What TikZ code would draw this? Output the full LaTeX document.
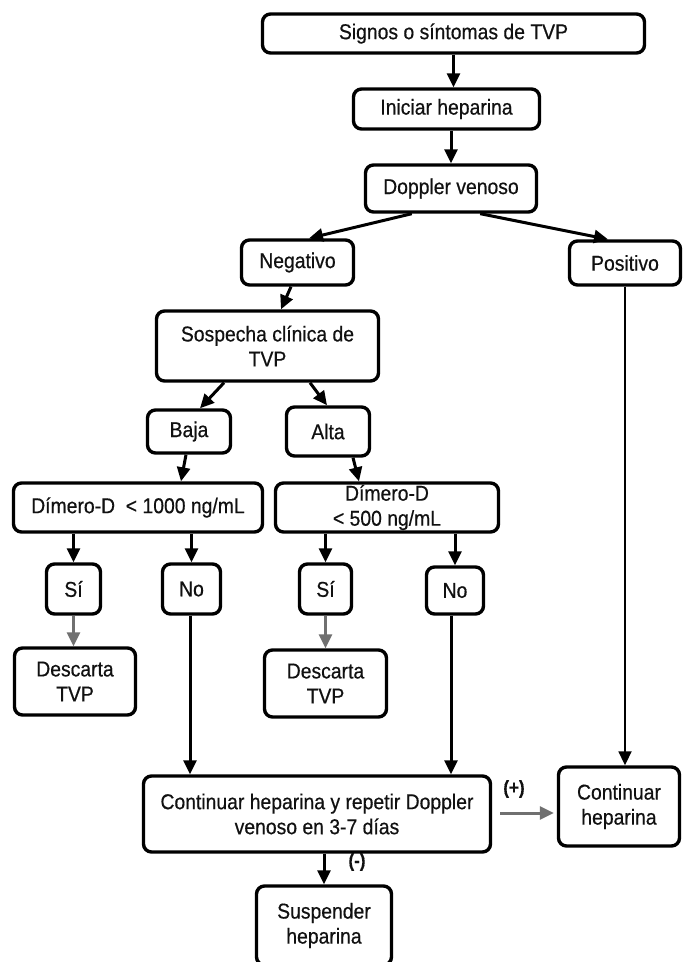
\documentclass[tikz,border=0pt]{standalone}
\usepackage{fontspec}
\setmainfont[FakeStretch=0.9,FakeBold=0.5]{Liberation Sans}
\usetikzlibrary{arrows.meta,calc}
\definecolor{arrgray}{HTML}{707070}
\definecolor{txt}{HTML}{111111}
\begin{document}
\begin{tikzpicture}[x=1pt,y=-1pt,
  box/.style={draw=black, line width=3.4pt, rounded corners=8pt, align=center,
    inner sep=0pt, text=txt, font=\fontsize{21.5}{25}\selectfont},
  arr/.style={draw=black, line width=3pt, -{Triangle[length=14pt,width=13pt]}},
  thinarr/.style={draw=black, line width=1.8pt, -{Triangle[length=14pt,width=13pt]}},
  garr/.style={draw=arrgray, line width=3pt, -{Triangle[length=14pt,width=13pt]}},
  lbl/.style={text=txt, font=\bfseries\fontsize{19}{21}\selectfont, inner sep=0pt}]
\useasboundingbox (0,0) rectangle (683,962);
\clip (0,0) rectangle (683,962);
\fill[white] (0,0) rectangle (683,962);

\node[box, minimum width=382pt, minimum height=39pt] (top) at (453.5,33.5) {Signos o síntomas de TVP};
\node[box, minimum width=186pt, minimum height=40pt] (ini) at (446.5,109) {Iniciar heparina};
\node[box, minimum width=171pt, minimum height=47pt] (dop) at (451,188.5) {Doppler venoso};
\node[box, minimum width=112pt, minimum height=45pt] (neg) at (297.5,262.5) {Negativo};
\node[box, minimum width=111pt, minimum height=44pt] (pos) at (625,263) {Positivo};
\node[box, minimum width=222pt, minimum height=70pt] (sosp) at (267.5,346) {Sospecha clínica de\\TVP};
\node[box, minimum width=83pt, minimum height=43pt] (baja) at (189,431.5) {Baja};
\node[box, minimum width=83pt, minimum height=49pt] (alta) at (328,431.5) {Alta};
\node[box, minimum width=249pt, minimum height=49pt] (dim1) at (138,507.5) {Dímero-D\ \ < 1000 ng/mL};
\node[box, minimum width=223pt, minimum height=49pt] (dim2) at (387,507.5) {Dímero-D\\< 500 ng/mL};
\node[box, minimum width=54pt, minimum height=50pt] (si1) at (73.5,589) {Sí};
\node[box, minimum width=58pt, minimum height=50pt] (no1) at (191.5,589) {No};
\node[box, minimum width=52pt, minimum height=50pt] (si2) at (325.5,589) {Sí};
\node[box, minimum width=57pt, minimum height=47pt] (no2) at (455,590.5) {No};
\node[box, minimum width=121pt, minimum height=67pt] (desc1) at (75,681.5) {Descarta\\TVP};
\node[box, minimum width=122pt, minimum height=67pt] (desc2) at (325.5,683.5) {Descarta\\TVP};
\node[box, minimum width=347pt, minimum height=76pt] (cont) at (317,814) {Continuar heparina y repetir Doppler\\venoso en 3-7 días};
\node[box, minimum width=121pt, minimum height=79pt] (contR) at (619,806.5) {Continuar\\heparina};
\node[box, minimum width=135pt, minimum height=79pt] (susp) at (324,925.5) {Suspender\\heparina};

% connectors
\draw[arr] (top.south) -- (top.south |- ini.north);
\draw[arr] (dop.north |- ini.south) -- (dop.north);
\draw[arr] ($(dop.south west)+(48,0)$) -- ($(neg.north)+(11.5,0)$);
\draw[arr] ($(dop.south east)+(-58,0)$) -- ($(pos.north)+(-17,0)$);
\draw[arr] ($(neg.south)+(-6.5,0)$) -- ($(sosp.north)+(13.5,0)$);
\draw[arr] ($(sosp.south)+(-43.5,0)$) -- ($(baja.north)+(11,0)$);
\draw[arr] ($(sosp.south)+(42.5,0)$) -- ($(alta.north)+(-1,0)$);
\draw[arr] ($(baja.south)+(-3,0)$) -- ($(dim1.north)+(43,0)$);
\draw[arr] ($(alta.south)+(25,0)$) -- ($(dim2.north)+(-28,0)$);
\draw[arr] (si1.north |- dim1.south) -- (si1.north);
\draw[arr] (no1.north |- dim1.south) -- (no1.north);
\draw[arr] (si2.north |- dim2.south) -- (si2.north);
\draw[arr] (no2.north |- dim2.south) -- (no2.north);
\draw[garr] (si1.south) -- (si1.south |- desc1.north);
\draw[garr] (si2.south) -- (si2.south |- desc2.north);
\draw[arr] ($(no1.south)+(-1.5,0)$) -- ($(no1.south |- cont.north)+(-1.5,0)$);
\draw[arr] ($(no2.south)+(-4,0)$) -- ($(no2.south |- cont.north)+(-4,0)$);
\draw[thinarr] (pos.south) -- (pos.south |- contR.north);
\draw[garr, shorten <=8pt, shorten >=3pt] (cont.east |- 0,813) -- (contR.west |- 0,813);
\draw[arr] (susp.north |- cont.south) -- (susp.north);

\node[lbl] (plus) at (514,789) {(+)};
\node[lbl] (minus) at (357,862) {(-)};
\end{tikzpicture}
\end{document}
